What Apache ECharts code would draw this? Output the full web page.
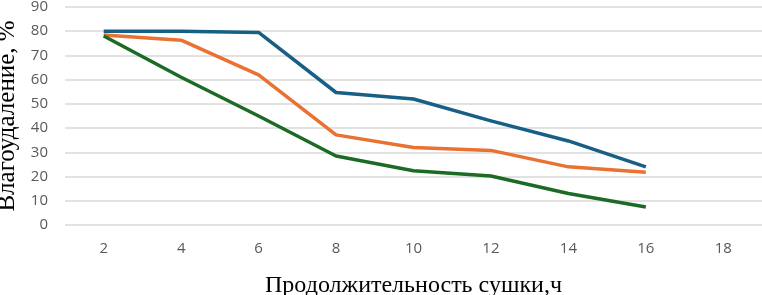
<!DOCTYPE html>
<html><head><meta charset="utf-8">
<script src="https://cdn.jsdelivr.net/npm/echarts@6/dist/echarts.min.js"></script>
<style>html,body{margin:0;padding:0;background:#fff}#c{width:762px;height:295px}</style>
</head><body><div id="c"></div>
<script>
const categories = ["2","4","6","8","10","12","14","16","18"];
const seriesBlue = [80, 80, 79.5, 54.7, 52, 43, 34.7, 24];
const seriesOrange = [78.4, 76.3, 62, 37.2, 32, 30.8, 24, 21.8];
const seriesGreen = [78, 61, 45, 28.5, 22.4, 20.2, 13, 7.4];
const yTicks = {min: 0, max: 90, interval: 10};

const chart = echarts.init(document.getElementById('c'), null, {renderer: 'canvas'});
const mk = (data, color) => ({
  type: 'line', data: data, symbol: 'none', smooth: false,
  lineStyle: {color: color, width: 3.5, join: 'round'}, itemStyle: {color: color}
});
chart.setOption({
  animation: false,
  grid: {left: 65, right: 0, top: 7, bottom: 70, containLabel: false, outerBoundsMode: 'none'},
  xAxis: {
    type: 'category', data: categories, boundaryGap: true,
    axisLine: {show: false}, axisTick: {show: false}, splitLine: {show: false},
    axisLabel: {color: '#595959', fontSize: 15, fontFamily: '"Open Sans", sans-serif', margin: 16},
    name: 'Продолжительность сушки,ч', nameLocation: 'middle', nameGap: 49,
    nameTextStyle: {color: '#000', fontSize: 24, fontFamily: '"Liberation Serif", "Times New Roman", serif'}
  },
  yAxis: {
    type: 'value', min: yTicks.min, max: yTicks.max, interval: yTicks.interval,
    axisLine: {show: false}, axisTick: {show: false},
    splitLine: {lineStyle: {color: '#d9d9d9', width: 1.5}},
    axisLabel: {color: '#595959', fontSize: 15, fontFamily: '"Open Sans", sans-serif', margin: 17},
    name: 'Влагоудаление, %', nameLocation: 'middle', nameGap: 43,
    nameTextStyle: {color: '#000', fontSize: 25, fontFamily: '"Liberation Serif", "Times New Roman", serif'}
  },
  series: [mk(seriesBlue, '#175f84'), mk(seriesOrange, '#e97132'), mk(seriesGreen, '#1b6b24')]
});
</script></body></html>
